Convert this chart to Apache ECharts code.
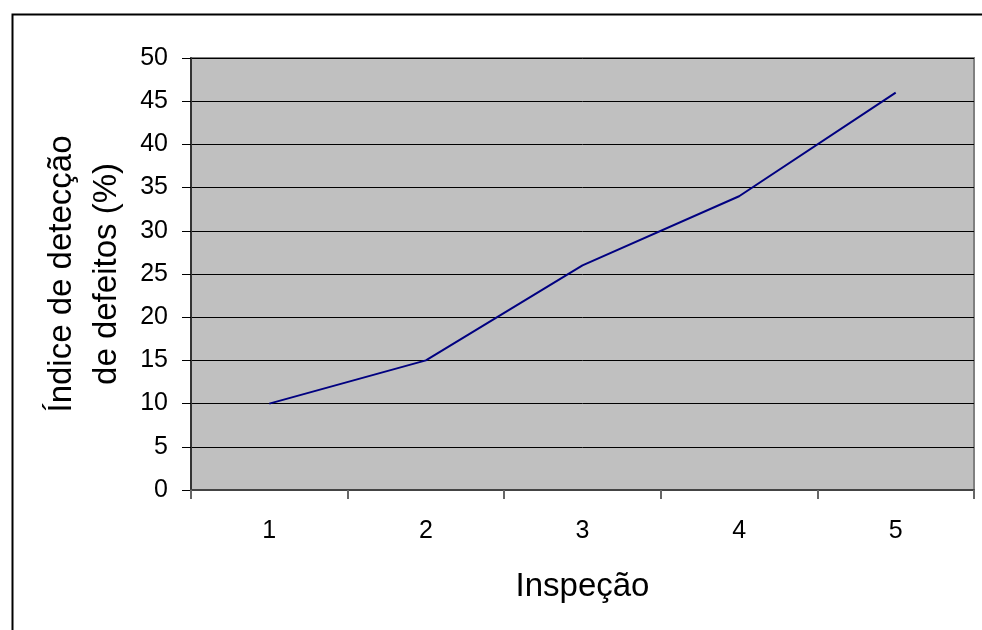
<!DOCTYPE html>
<html>
<head>
<meta charset="utf-8">
<script src="https://cdn.jsdelivr.net/npm/echarts@6/dist/echarts.min.js"></script>
<style>html,body{margin:0;padding:0;background:#fff}#c{width:982px;height:630px}</style>
</head>
<body>
<div id="c"></div>
<script>
const categories = ['1', '2', '3', '4', '5'];
const values = [10, 15, 26, 34, 46];
const xTitle = 'Inspeção';
const yTitle = 'Índice de detecção\nde defeitos (%)';

const chart = echarts.init(document.getElementById('c'), null, {renderer: 'canvas'});
const font = '"Liberation Sans", Arial, sans-serif';
chart.setOption({
  animation: false,
  backgroundColor: '#ffffff',
  graphic: [{
    type: 'rect', left: 10, top: 12, z: -10,
    shape: {width: 1000, height: 700},
    style: {fill: 'none', stroke: '#000', lineWidth: 2}
  }],
  grid: {
    left: 191, right: 8, top: 58, bottom: 140,
    show: true, backgroundColor: '#c0c0c0', borderColor: '#808080', borderWidth: 2
  },
  xAxis: {
    type: 'category', data: categories, boundaryGap: true,
    name: xTitle, nameLocation: 'middle', nameGap: 80,
    nameTextStyle: {fontFamily: font, fontSize: 33, color: '#000'},
    axisLine: {lineStyle: {color: '#444', width: 2}},
    axisTick: {show: true, length: 9, alignWithLabel: false, lineStyle: {color: '#666', width: 2}},
    axisLabel: {fontFamily: font, fontSize: 25, color: '#000', margin: 29},
    splitLine: {show: false}
  },
  yAxis: {
    type: 'value', min: 0, max: 50, interval: 5,
    name: yTitle, nameLocation: 'middle', nameGap: 62, nameRotate: 90,
    nameTextStyle: {fontFamily: font, fontSize: 33, color: '#000', lineHeight: 45, align: 'center'},
    axisLine: {show: true, lineStyle: {color: '#333', width: 2}},
    axisTick: {show: true, length: 9, lineStyle: {color: '#000', width: 1}},
    axisLabel: {fontFamily: font, fontSize: 25, color: '#000', margin: 23},
    splitLine: {show: true, lineStyle: {color: '#000', width: 1}}
  },
  series: [{
    type: 'line', data: values, showSymbol: false, symbol: 'none',
    lineStyle: {color: '#000080', width: 2}
  }]
});
</script>
</body>
</html>
